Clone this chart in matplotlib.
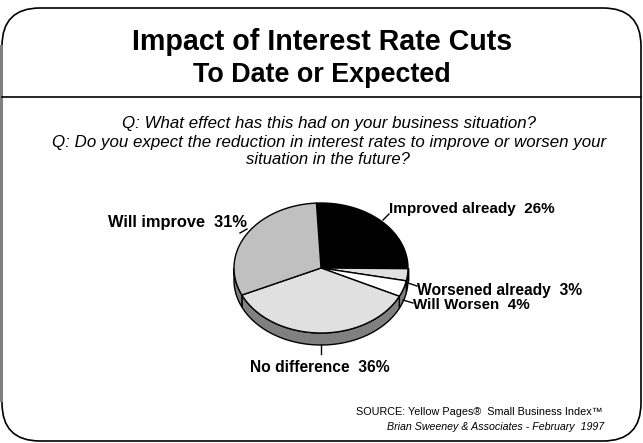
import numpy as np
import matplotlib
matplotlib.use("Agg")
import matplotlib.pyplot as plt
from matplotlib.patches import Polygon, FancyBboxPatch

# ---- data -------------------------------------------------------------
labels = ["Improved already", "Worsened already", "Will Worsen",
          "No difference", "Will improve"]
shares = [26, 3, 4, 36, 31]
colors = ["#000000", "#e0e0e0", "#ffffff", "#e0e0e0", "#c0c0c0"]

title_lines = ["Impact of Interest Rate Cuts", "To Date or Expected"]
question_lines = [
    "Q: What effect has this had on your business situation?",
    "Q: Do you expect the reduction in interest rates to improve or worsen your",
    "situation in the future?",
]
source_line = "SOURCE: Yellow Pages\u00ae  Small Business Index\u2122"
credit_line = "Brian Sweeney & Associates - February  1997"

# ---- canvas in pixel units -------------------------------------------
W, H = 643, 443
fig = plt.figure(figsize=(W / 100, H / 100), dpi=100)
ax = fig.add_axes([0, 0, 1, 1])
ax.set_xlim(0, W)
ax.set_ylim(H, 0)
ax.axis("off")
renderer = fig.canvas.get_renderer()

WIDE = ["Liberation Sans", "DejaVu Sans"]
NARROW = ["Liberation Sans Narrow", "Liberation Sans", "DejaVu Sans"]


def fitted_text(x, y, s, width, ha="center", family=WIDE, **kw):
    """Place text and scale its font so it spans `width` pixels."""
    t = ax.text(x, y, s, ha=ha, va="center", fontsize=10,
                family=family, **kw)
    w = t.get_window_extent(renderer).width
    t.set_fontsize(10 * width / w)
    return t


# rounded frame
frame = FancyBboxPatch((2, 8), 639, 433,
                       boxstyle="round,pad=0,rounding_size=38",
                       fc="white", ec="black", lw=1.2, zorder=0)
ax.add_patch(frame)
ax.plot([1.2, 1.2], [46, 400], color="#808080", lw=2.2, zorder=1)
ax.plot([2, 641], [97, 97], color="black", lw=1.2, zorder=1)

# title and questions
fitted_text(322, 42, title_lines[0], 380, family=NARROW, weight="bold")
fitted_text(322, 75, title_lines[1], 258, family=NARROW, weight="bold")
fitted_text(329, 123, question_lines[0], 414, family=NARROW, style="italic")
fitted_text(329, 142, question_lines[1], 555, family=NARROW, style="italic")
fitted_text(328, 160, question_lines[2], 164, family=NARROW, style="italic")

# ---- 3-D pie ------------------------------------------------------------
cx, cy, a, b, depth = 321, 268, 87, 65, 12
start = 93.0
bounds = start - 3.6 * np.concatenate([[0], np.cumsum(shares)])


def arc(t0, t1, n=120, dy=0.0):
    t = np.radians(np.linspace(t0, t1, n))
    return np.column_stack([cx + a * np.cos(t), cy - b * np.sin(t) + dy])


# front side walls (visible half: angles -180..0)
for i in range(len(shares)):
    hi, lo = bounds[i], bounds[i + 1]
    lo_c, hi_c = max(lo, -180.0), min(hi, 0.0)
    if hi_c <= lo_c:
        continue
    top = arc(lo_c, hi_c)
    bot = arc(hi_c, lo_c, dy=depth)
    ax.add_patch(Polygon(np.vstack([top, bot]), closed=True,
                         fc="#808080", ec="black", lw=1.0, zorder=2))

# top faces
for i, c in enumerate(colors):
    pts = np.vstack([[cx, cy], arc(bounds[i], bounds[i + 1])])
    ax.add_patch(Polygon(pts, closed=True, fc=c, ec="black", lw=1.0,
                         joinstyle="round", zorder=3))

# ---- slice labels with leader lines -----------------------------------
lab = [f"{n}  {v}%" for n, v in zip(labels, shares)]
lk = dict(weight="bold")
fitted_text(389, 209, lab[0], 166, ha="left", **lk)
ax.plot([383, 389], [220, 214], color="black", lw=1, zorder=4)

fitted_text(417, 290, lab[1], 166, ha="left", **lk)
ax.plot([408, 417], [283, 286], color="black", lw=1, zorder=4)

fitted_text(413, 305, lab[2], 117, ha="left", **lk)
ax.plot([403, 413], [300, 303], color="black", lw=1, zorder=4)

fitted_text(320, 367, lab[3], 140, **lk)
ax.plot([321, 321], [345, 354], color="black", lw=1, zorder=4)

fitted_text(247, 222, lab[4], 140, ha="right", **lk)
ax.plot([240, 247], [233, 229], color="black", lw=1, zorder=4)

# ---- source notes -----------------------------------------------------
fitted_text(603, 412, source_line, 247, ha="right", family=NARROW)
fitted_text(604, 427, credit_line, 218, ha="right", family=NARROW,
            style="italic")

fig.savefig("out.png", dpi=100)
